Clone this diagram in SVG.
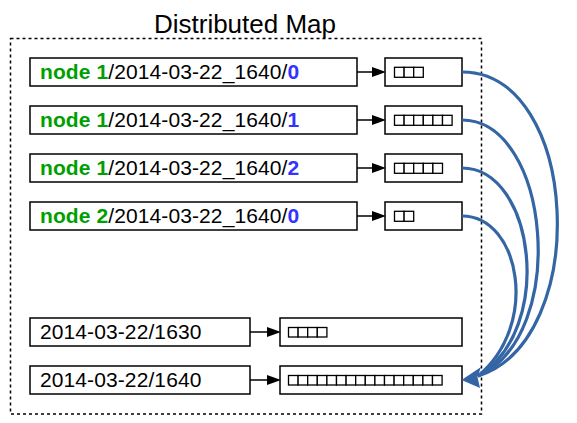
<svg xmlns="http://www.w3.org/2000/svg" width="577" height="423" viewBox="0 0 577 423">
<style>
.box{fill:#fff;stroke:#000;stroke-width:1.5}
.sq{fill:#fff;stroke:#000;stroke-width:1.3}
.t{font-family:"Liberation Sans",Arial,sans-serif;font-size:21px;fill:#000;letter-spacing:0.1px}
.g{fill:#009f00;font-weight:bold}
.b{fill:#3333ff;font-weight:bold}
.ar{stroke:#000;stroke-width:1.5;fill:none}
.cv{stroke:#3465a4;stroke-width:3.2;fill:none}
</style>
<defs>
<marker id="ah" markerWidth="14" markerHeight="10" refX="0" refY="5" orient="auto" markerUnits="userSpaceOnUse"><path d="M0,0 L14,5 L0,10 Z" fill="#000"/></marker>
</defs>
<rect x="10.5" y="38.5" width="471" height="375.5" fill="none" stroke="#000" stroke-width="1.5" stroke-dasharray="3,3"/>
<text x="245" y="33" text-anchor="middle" style="font-family:'Liberation Sans',Arial,sans-serif;font-size:26px">Distributed Map</text>

<g id="key1"><rect class="box" x="30" y="58" width="327" height="28"/><text class="t" x="40" y="79"><tspan class="g">node 1</tspan>/2014-03-22_1640/<tspan class="b">0</tspan></text></g>
<g id="key2"><rect class="box" x="30" y="106" width="327" height="28"/><text class="t" x="40" y="127"><tspan class="g">node 1</tspan>/2014-03-22_1640/<tspan class="b">1</tspan></text></g>
<g id="key3"><rect class="box" x="30" y="154" width="327" height="28"/><text class="t" x="40" y="175"><tspan class="g">node 1</tspan>/2014-03-22_1640/<tspan class="b">2</tspan></text></g>
<g id="key4"><rect class="box" x="30" y="202" width="327" height="28"/><text class="t" x="40" y="223"><tspan class="g">node 2</tspan>/2014-03-22_1640/<tspan class="b">0</tspan></text></g>
<g id="key5"><rect class="box" x="30" y="318" width="220" height="28"/><text class="t" x="40" y="339">2014-03-22/1630</text></g>
<g id="key6"><rect class="box" x="30" y="366" width="220" height="28"/><text class="t" x="40" y="387">2014-03-22/1640</text></g>

<g id="val1"><rect class="box" x="385" y="58" width="77" height="28"/>
<rect class="sq" x="394.5" y="67.3" width="9.6" height="10"/><rect class="sq" x="404.1" y="67.3" width="9.6" height="10"/><rect class="sq" x="413.7" y="67.3" width="9.6" height="10"/></g>
<g id="val2"><rect class="box" x="385" y="106" width="77" height="28"/>
<rect class="sq" x="394.5" y="115.3" width="9.6" height="10"/><rect class="sq" x="404.1" y="115.3" width="9.6" height="10"/><rect class="sq" x="413.7" y="115.3" width="9.6" height="10"/><rect class="sq" x="423.3" y="115.3" width="9.6" height="10"/><rect class="sq" x="432.9" y="115.3" width="9.6" height="10"/><rect class="sq" x="442.5" y="115.3" width="9.6" height="10"/></g>
<g id="val3"><rect class="box" x="385" y="154" width="77" height="28"/>
<rect class="sq" x="394.5" y="163.3" width="9.6" height="10"/><rect class="sq" x="404.1" y="163.3" width="9.6" height="10"/><rect class="sq" x="413.7" y="163.3" width="9.6" height="10"/><rect class="sq" x="423.3" y="163.3" width="9.6" height="10"/><rect class="sq" x="432.9" y="163.3" width="9.6" height="10"/></g>
<g id="val4"><rect class="box" x="385" y="202" width="77" height="28"/>
<rect class="sq" x="394.5" y="211.3" width="9.6" height="10"/><rect class="sq" x="404.1" y="211.3" width="9.6" height="10"/></g>
<g id="val5"><rect class="box" x="280" y="318" width="182" height="28"/>
<rect class="sq" x="288.5" y="327.5" width="9.6" height="9.5"/><rect class="sq" x="298.1" y="327.5" width="9.6" height="9.5"/><rect class="sq" x="307.7" y="327.5" width="9.6" height="9.5"/><rect class="sq" x="317.3" y="327.5" width="9.6" height="9.5"/></g>
<g id="val6"><rect class="box" x="280" y="366" width="182" height="28"/>
<rect class="sq" x="288.5" y="375.5" width="9.6" height="9.5"/><rect class="sq" x="298.1" y="375.5" width="9.6" height="9.5"/><rect class="sq" x="307.7" y="375.5" width="9.6" height="9.5"/><rect class="sq" x="317.3" y="375.5" width="9.6" height="9.5"/><rect class="sq" x="326.9" y="375.5" width="9.6" height="9.5"/><rect class="sq" x="336.5" y="375.5" width="9.6" height="9.5"/><rect class="sq" x="346.1" y="375.5" width="9.6" height="9.5"/><rect class="sq" x="355.7" y="375.5" width="9.6" height="9.5"/><rect class="sq" x="365.3" y="375.5" width="9.6" height="9.5"/><rect class="sq" x="374.9" y="375.5" width="9.6" height="9.5"/><rect class="sq" x="384.5" y="375.5" width="9.6" height="9.5"/><rect class="sq" x="394.1" y="375.5" width="9.6" height="9.5"/><rect class="sq" x="403.7" y="375.5" width="9.6" height="9.5"/><rect class="sq" x="413.3" y="375.5" width="9.6" height="9.5"/><rect class="sq" x="422.9" y="375.5" width="9.6" height="9.5"/><rect class="sq" x="432.5" y="375.5" width="9.6" height="9.5"/></g>

<g id="connectors">
<line class="ar" x1="357" y1="72" x2="372" y2="72" marker-end="url(#ah)"/>
<line class="ar" x1="357" y1="120" x2="372" y2="120" marker-end="url(#ah)"/>
<line class="ar" x1="357" y1="168" x2="372" y2="168" marker-end="url(#ah)"/>
<line class="ar" x1="357" y1="216" x2="372" y2="216" marker-end="url(#ah)"/>
<line class="ar" x1="250" y1="332" x2="267" y2="332" marker-end="url(#ah)"/>
<line class="ar" x1="250" y1="380" x2="267" y2="380" marker-end="url(#ah)"/>
<path class="cv" d="M462,72 C580,72 592,340 478,376"/>
<path class="cv" d="M462,120 C550,120 570,335 478,376"/>
<path class="cv" d="M462,168 C535,168 555,330 478,376"/>
<path class="cv" d="M462,216 C520,216 540,325 478,376"/>
<path d="M461.5,380 L481,367 L477.5,377 L480,388 Z" fill="#3465a4"/>
</g>
</svg>
